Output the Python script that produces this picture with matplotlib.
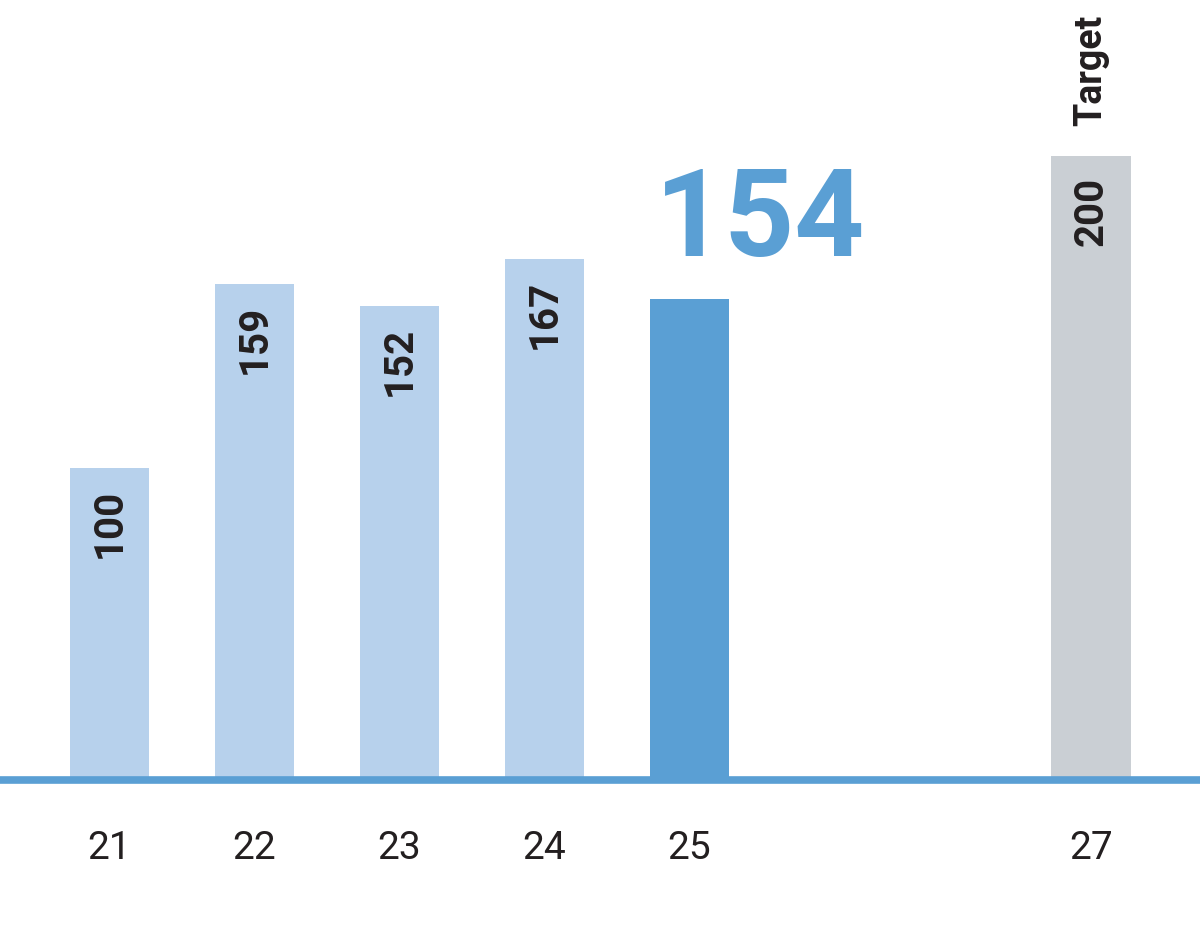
import matplotlib.pyplot as plt

plt.rcParams['font.family'] = ['Roboto', 'DejaVu Sans']

# chart data
years = ['21', '22', '23', '24', '25', '27']
values = [100, 159, 152, 167, 154, 200]
slots = [0, 1, 2, 3, 4, 6.77]   # 27 sits further out, after a gap
colors = ['#b7d1ec', '#b7d1ec', '#b7d1ec', '#b7d1ec', '#5a9fd4', '#cacfd4']
current = 154
target_label = 'Target'

fig = plt.figure(figsize=(12, 9.37), dpi=100)
ax = fig.add_axes([0, 0, 1, 1])

ax.bar(slots, values, width=0.55, color=colors, zorder=2)
ax.axhline(0, color='#5a9fd4', linewidth=5.5, zorder=3)

# value labels inside the bars (not on the highlighted one)
for x, v, c in zip(slots, values, colors):
    if c == '#5a9fd4':
        continue
    ax.text(x, v - 6.5, str(v), rotation=90, ha='center', va='top',
            fontsize=29, fontweight='bold', color='#231f20')

# year labels under the baseline
for x, y in zip(slots, years):
    ax.text(x, -21.5, y, ha='center', va='center', fontsize=28, color='#231f20')

# big number for the current year
ax.text(slots[4] + 0.49, 179, str(current), ha='center', va='center',
        fontsize=88, fontweight='bold', color='#5a9fd4')

# target label above the grey bar
ax.text(slots[-1], values[-1] + 10, target_label, rotation=90, ha='center', va='bottom',
        fontsize=27, fontweight='bold', color='#231f20')

ax.set_xlim(-0.755, 7.52)
ax.set_ylim(-50, 250.3)
ax.axis('off')

plt.savefig('out.png', dpi=100)
plt.close()
